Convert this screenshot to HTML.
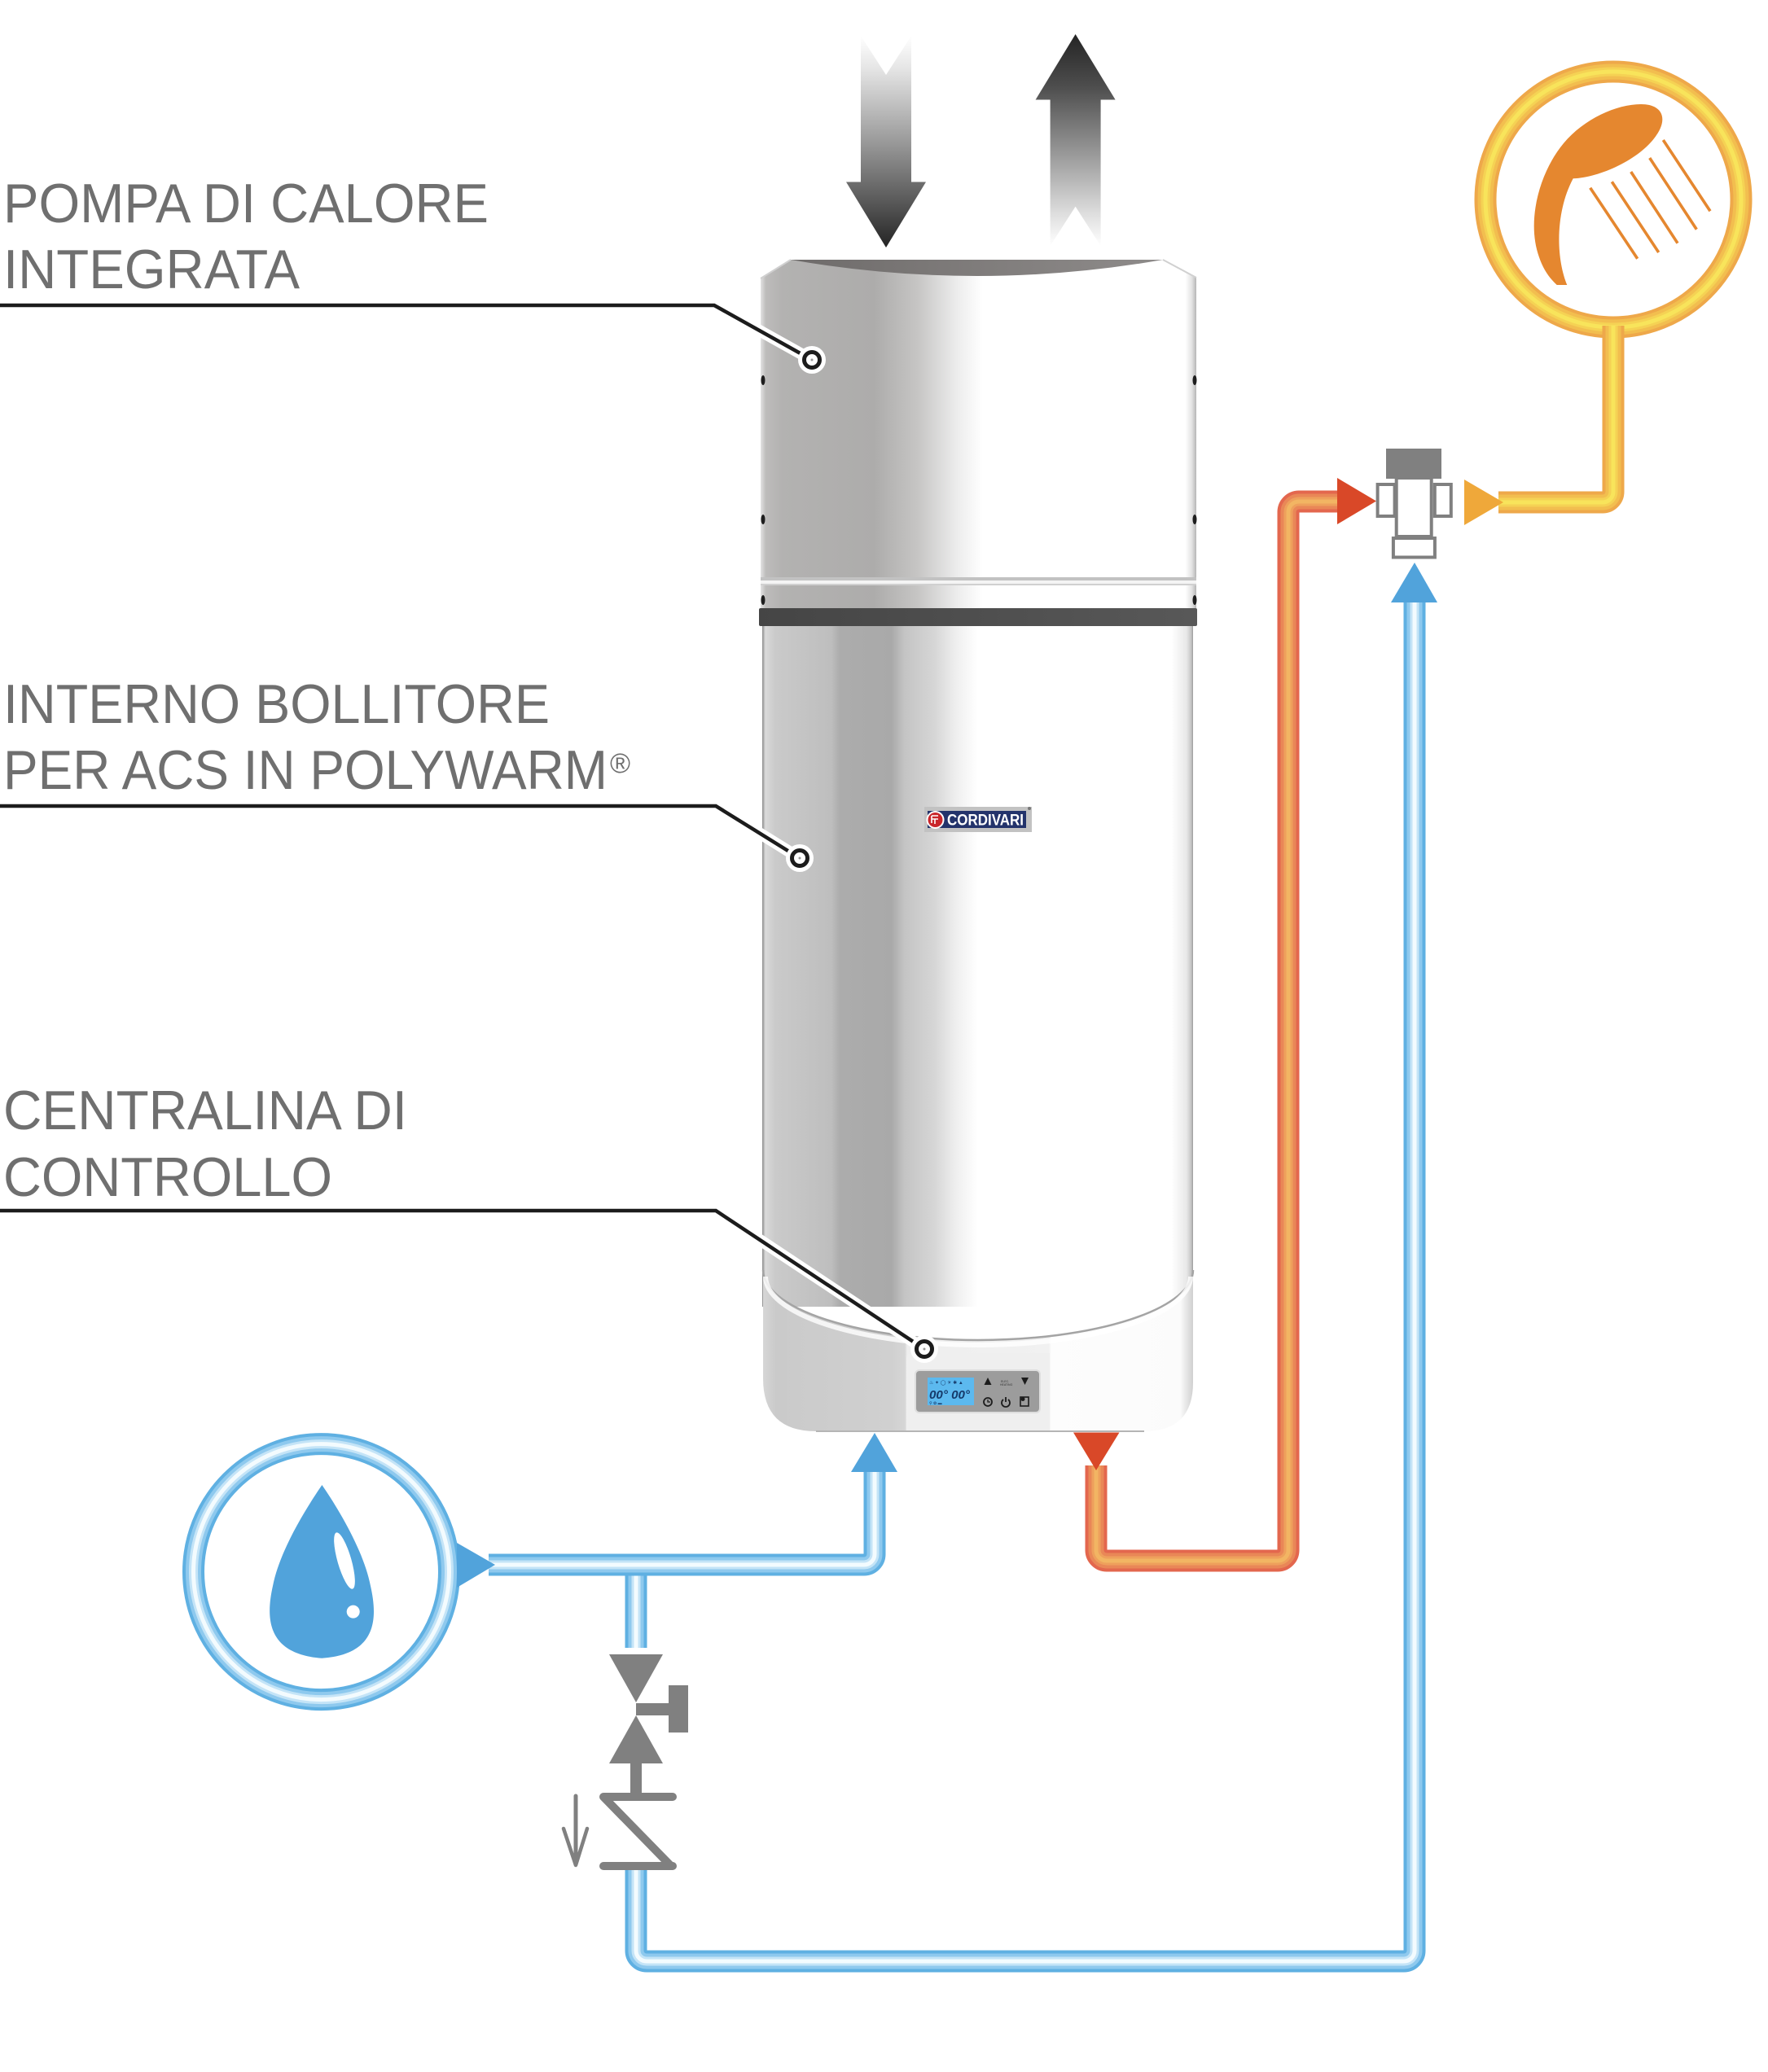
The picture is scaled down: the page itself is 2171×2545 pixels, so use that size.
<!DOCTYPE html>
<html>
<head>
<meta charset="utf-8">
<style>
html,body{margin:0;padding:0;background:#ffffff;}
svg{display:block;}
</style>
</head>
<body>
<svg xmlns="http://www.w3.org/2000/svg" width="2171" height="2545" viewBox="0 0 2171 2545">
<defs>
  <linearGradient id="gDown" x1="0" y1="44" x2="0" y2="304" gradientUnits="userSpaceOnUse">
    <stop offset="0" stop-color="#ffffff"/>
    <stop offset="0.15" stop-color="#e6e6e6"/>
    <stop offset="0.5" stop-color="#9a9a9a"/>
    <stop offset="0.8" stop-color="#555555"/>
    <stop offset="1" stop-color="#242424"/>
  </linearGradient>
  <linearGradient id="gUp" x1="0" y1="42" x2="0" y2="302" gradientUnits="userSpaceOnUse">
    <stop offset="0" stop-color="#242424"/>
    <stop offset="0.25" stop-color="#4e4e4e"/>
    <stop offset="0.55" stop-color="#959595"/>
    <stop offset="0.85" stop-color="#dedede"/>
    <stop offset="1" stop-color="#ffffff"/>
  </linearGradient>
  <linearGradient id="gUpper" x1="934" y1="0" x2="1469" y2="0" gradientUnits="userSpaceOnUse">
    <stop offset="0" stop-color="#e2e2e2"/>
    <stop offset="0.012" stop-color="#bdbcbb"/>
    <stop offset="0.05" stop-color="#b3b2b1"/>
    <stop offset="0.26" stop-color="#adacab"/>
    <stop offset="0.36" stop-color="#c6c5c4"/>
    <stop offset="0.45" stop-color="#ececec"/>
    <stop offset="0.51" stop-color="#ffffff"/>
    <stop offset="0.975" stop-color="#ffffff"/>
    <stop offset="0.99" stop-color="#e2e2e2"/>
    <stop offset="1" stop-color="#b5b5b5"/>
  </linearGradient>
  <linearGradient id="gLower" x1="936" y1="0" x2="1465" y2="0" gradientUnits="userSpaceOnUse">
    <stop offset="0" stop-color="#8a8a8a"/>
    <stop offset="0.007" stop-color="#dadada"/>
    <stop offset="0.03" stop-color="#cacaca"/>
    <stop offset="0.16" stop-color="#bebebe"/>
    <stop offset="0.18" stop-color="#acacac"/>
    <stop offset="0.3" stop-color="#a9a9a9"/>
    <stop offset="0.33" stop-color="#c4c4c4"/>
    <stop offset="0.4" stop-color="#d6d6d6"/>
    <stop offset="0.45" stop-color="#efefef"/>
    <stop offset="0.5" stop-color="#ffffff"/>
    <stop offset="0.95" stop-color="#ffffff"/>
    <stop offset="0.985" stop-color="#e8e8e8"/>
    <stop offset="0.996" stop-color="#c4c4c4"/>
    <stop offset="1" stop-color="#9a9a9a"/>
  </linearGradient>
  <linearGradient id="gSkirt" x1="937" y1="0" x2="1465" y2="0" gradientUnits="userSpaceOnUse">
    <stop offset="0" stop-color="#d6d6d6"/>
    <stop offset="0.03" stop-color="#cacaca"/>
    <stop offset="0.3" stop-color="#d0d0d0"/>
    <stop offset="0.33" stop-color="#d6d6d6"/>
    <stop offset="0.335" stop-color="#eeeeee"/>
    <stop offset="0.665" stop-color="#f1f1f1"/>
    <stop offset="0.67" stop-color="#fdfdfd"/>
    <stop offset="0.97" stop-color="#fbfbfb"/>
    <stop offset="1" stop-color="#d0d0d0"/>
  </linearGradient>
  <linearGradient id="gLens" x1="971" y1="0" x2="1428" y2="0" gradientUnits="userSpaceOnUse">
    <stop offset="0" stop-color="#6e6b6a"/>
    <stop offset="0.5" stop-color="#7f7c7b"/>
    <stop offset="1" stop-color="#8e8b8a"/>
  </linearGradient>
  <linearGradient id="gBand" x1="932" y1="0" x2="1470" y2="0" gradientUnits="userSpaceOnUse">
    <stop offset="0" stop-color="#454545"/>
    <stop offset="1" stop-color="#585858"/>
  </linearGradient>

  <path id="pBlueA" d="M600 1922 H1061 A13 13 0 0 0 1074 1909 V1806"/>
  <path id="pBlueB" d="M781 1922 V2024"/>
  <path id="pBlueC" d="M781 2296 V2396 A13 13 0 0 0 794 2409 H1724 A13 13 0 0 0 1737 2396 V739"/>
  <path id="pRed" d="M1346 1800 V1904 A13 13 0 0 0 1359 1917 H1569 A13 13 0 0 0 1582 1904 V629 A13 13 0 0 1 1595 616 H1645"/>
  <path id="pYel" d="M1981 400 V604 A13 13 0 0 1 1968 617 H1840"/>
</defs>

<rect x="0" y="0" width="2171" height="2545" fill="#ffffff"/>

<!-- Labels -->
<g font-family="'Liberation Sans', 'DejaVu Sans', sans-serif" fill="#6f6f6f" font-size="68">
  <text x="4" y="273" textLength="596" lengthAdjust="spacingAndGlyphs">POMPA DI CALORE</text>
  <text x="4" y="354" textLength="364" lengthAdjust="spacingAndGlyphs">INTEGRATA</text>
  <text x="4" y="888" textLength="671" lengthAdjust="spacingAndGlyphs">INTERNO BOLLITORE</text>
  <text x="4" y="969" textLength="742" lengthAdjust="spacingAndGlyphs">PER ACS IN POLYWARM</text>
  <text x="749" y="949" font-size="34">®</text>
  <text x="4" y="1387" textLength="496" lengthAdjust="spacingAndGlyphs">CENTRALINA DI</text>
  <text x="4" y="1469" textLength="404" lengthAdjust="spacingAndGlyphs">CONTROLLO</text>
</g>

<!-- Air arrows -->
<polygon points="1057,44 1088,92 1119,44 1119,223.5 1137,223.5 1088,304 1039,223.5 1057,223.5" fill="url(#gDown)"/>
<polygon points="1320.6,42 1369.6,122.5 1351.6,122.5 1351.6,302 1320.6,253.7 1289.6,302 1289.6,122.5 1271.6,122.5" fill="url(#gUp)"/>

<!-- Tank: lower body -->
<rect x="936" y="765" width="529" height="840" fill="url(#gLower)"/>
<!-- upper body -->
<path d="M934 342 L971 319 H1428 L1469 341 V712 H934 Z" fill="url(#gUpper)"/>
<path d="M934 342 L971 319" stroke="#d0d0d0" stroke-width="2" fill="none"/>
<path d="M1428 319 L1469 341" stroke="#d0d0d0" stroke-width="2" fill="none"/>
<path d="M971 319 H1428 Q1200 359 971 319 Z" fill="url(#gLens)"/>
<!-- seam -->
<rect x="934" y="709" width="535" height="4" fill="#c2c2c2"/>
<rect x="934" y="713" width="535" height="4" fill="#f4f4f4"/>
<rect x="934" y="717" width="535" height="2" fill="#d0d0d0"/>
<rect x="934" y="719" width="535" height="28" fill="url(#gUpper)"/>
<!-- dark band -->
<rect x="932" y="747" width="538" height="22" rx="2" fill="url(#gBand)"/>
<!-- holes -->
<g fill="#1e1e1e">
  <ellipse cx="937" cy="467" rx="2.5" ry="6"/>
  <ellipse cx="937" cy="638" rx="2.5" ry="6"/>
  <ellipse cx="937" cy="737" rx="2.5" ry="6"/>
  <ellipse cx="1467" cy="467" rx="2.5" ry="6"/>
  <ellipse cx="1467" cy="638" rx="2.5" ry="6"/>
  <ellipse cx="1467" cy="737" rx="2.5" ry="6"/>
</g>

<!-- Logo -->
<rect x="1135" y="991" width="132" height="31" fill="#c2c2c2"/>
<rect x="1139" y="996" width="121" height="21" fill="#23336b"/>
<circle cx="1148.5" cy="1007" r="11" fill="#ffffff"/>
<circle cx="1148.5" cy="1007" r="9" fill="#c9262b"/>
<path d="M1144 1002 h8 M1144 1006 h8 M1144 1002 v9 M1148 1006 v6" stroke="#ffffff" stroke-width="1.6" fill="none"/>
<text x="1163" y="1013.5" font-family="'Liberation Sans', sans-serif" font-weight="bold" font-size="19" fill="#ffffff" textLength="94" lengthAdjust="spacingAndGlyphs">CORDIVARI</text>
<circle cx="1264" cy="993" r="2" fill="#777777"/>

<!-- Skirt -->
<path d="M937 1560 A264 86 0 0 0 1465 1560 V1698 Q1465 1758 1405 1758 H1002 Q937 1758 937 1693 Z" fill="url(#gSkirt)"/>
<path d="M937 1560 A264 86 0 0 0 1465 1560" fill="none" stroke="#a4a4a4" stroke-width="2.5"/>
<path d="M940 1568 A261 84 0 0 0 1462 1568" fill="none" stroke="#ffffff" stroke-width="6" opacity="0.8"/>
<path d="M1002 1758 H1405" stroke="#b5b5b5" stroke-width="2"/>
<!-- control panel area -->
<path d="M1113 1668 Q1113 1662 1120 1662 H1289 V1757 H1113 Z" fill="#efefef"/>
<rect x="1124" y="1683" width="153" height="52" rx="5" fill="#9c9c9c" stroke="#dedede" stroke-width="2"/>
<rect x="1139" y="1692" width="57" height="34" fill="#5cb9ef"/>
<g fill="#163a6a" font-family="'Liberation Sans', sans-serif">
  <text x="1141" y="1700" font-size="6">♨ ✦ ◯ ☀ ✱ ▲</text>
  <text x="1141" y="1718" font-size="15" font-style="italic" font-weight="bold" textLength="50" lengthAdjust="spacingAndGlyphs">00° 00°</text>
  <text x="1141" y="1725" font-size="5">⚲      ✿      ▬</text>
</g>
<g fill="#1c1c1c">
  <polygon points="1213,1692 1208.5,1701 1217.5,1701"/>
  <polygon points="1254,1692 1263,1692 1258.5,1701"/>
  <text x="1229" y="1698" font-family="'Liberation Sans', sans-serif" font-size="3.5" fill="#333">ELEC.</text>
  <text x="1228" y="1702" font-family="'Liberation Sans', sans-serif" font-size="3.5" fill="#333">HEATING</text>
</g>
<circle cx="1213" cy="1722" r="5" fill="none" stroke="#1c1c1c" stroke-width="1.8"/>
<path d="M1213 1719 V1722 H1216" stroke="#1c1c1c" stroke-width="1.3" fill="none"/>
<path d="M1232 1719 A5 5 0 1 0 1238 1719" stroke="#1c1c1c" stroke-width="1.8" fill="none"/>
<path d="M1235 1716 V1722" stroke="#1c1c1c" stroke-width="1.8"/>
<rect x="1253" y="1716" width="10" height="11" fill="none" stroke="#1c1c1c" stroke-width="1.6"/>
<circle cx="1256" cy="1718.5" r="2.5" fill="#1c1c1c"/>

<!-- Pipes -->
<g fill="none" stroke-linecap="butt">
  <use href="#pBlueB" stroke="#5fb0e2" stroke-width="27"/>
  <use href="#pBlueB" stroke="#8ec9ee" stroke-width="19"/>
  <use href="#pBlueB" stroke="#c4e4f7" stroke-width="11"/>
  <use href="#pBlueB" stroke="#f3fbfe" stroke-width="5"/>

  <use href="#pBlueA" stroke="#5fb0e2" stroke-width="27"/>
  <use href="#pBlueA" stroke="#8ec9ee" stroke-width="19"/>
  <use href="#pBlueA" stroke="#c4e4f7" stroke-width="11"/>
  <use href="#pBlueA" stroke="#f3fbfe" stroke-width="5"/>

  <use href="#pBlueC" stroke="#5fb0e2" stroke-width="27"/>
  <use href="#pBlueC" stroke="#8ec9ee" stroke-width="19"/>
  <use href="#pBlueC" stroke="#c4e4f7" stroke-width="11"/>
  <use href="#pBlueC" stroke="#f3fbfe" stroke-width="5"/>

  <use href="#pRed" stroke="#e3674e" stroke-width="27"/>
  <use href="#pRed" stroke="#e98757" stroke-width="19"/>
  <use href="#pRed" stroke="#eea05c" stroke-width="11"/>
  <use href="#pRed" stroke="#f2b563" stroke-width="5"/>

  <circle cx="394.5" cy="1930.6" r="157" stroke="#5fb0e2" stroke-width="27"/>
  <circle cx="394.5" cy="1930.6" r="157" stroke="#8ec9ee" stroke-width="19"/>
  <circle cx="394.5" cy="1930.6" r="157" stroke="#c4e4f7" stroke-width="11"/>
  <circle cx="394.5" cy="1930.6" r="157" stroke="#f3fbfe" stroke-width="5"/>

  <circle cx="1981" cy="245" r="157" stroke="#eea84a" stroke-width="27"/>
  <circle cx="1981" cy="245" r="157" stroke="#f2be4f" stroke-width="19"/>
  <circle cx="1981" cy="245" r="157" stroke="#f5d254" stroke-width="11"/>
  <circle cx="1981" cy="245" r="157" stroke="#f8e45b" stroke-width="5"/>

  <use href="#pYel" stroke="#eea84a" stroke-width="27"/>
  <use href="#pYel" stroke="#f2be4f" stroke-width="19"/>
  <use href="#pYel" stroke="#f5d254" stroke-width="11"/>
  <use href="#pYel" stroke="#f8e45b" stroke-width="5"/>
</g>

<!-- arrows on pipes -->
<polygon points="1045,1808 1102,1808 1074,1760" fill="#51a3db"/>
<polygon points="1318,1759.5 1374.5,1759.5 1346,1806" fill="#d94828"/>
<polygon points="561,1895 561,1950 608,1922" fill="#51a3db"/>
<polygon points="1708,740 1765,740 1737,691" fill="#51a3db"/>
<polygon points="1642,587 1642,644 1690,615.5" fill="#d94828"/>
<polygon points="1798,589 1798,645 1846,617" fill="#efa83a"/>

<!-- mixing valve -->
<g stroke="#808080" stroke-width="4" fill="#ffffff">
  <rect x="1691.6" y="595" width="21" height="39"/>
  <rect x="1761.8" y="595" width="20" height="39"/>
  <rect x="1714.7" y="587" width="43" height="72"/>
  <rect x="1710.9" y="661" width="51" height="23.5"/>
</g>
<rect x="1702" y="551" width="68" height="37" fill="#808080"/>

<!-- gate valve and check valve -->
<g fill="#808080">
  <polygon points="748,2032 814,2032 781,2091"/>
  <polygon points="748,2166 814,2166 781,2107"/>
  <rect x="781" y="2092" width="42" height="15"/>
  <rect x="821" y="2070" width="24" height="58"/>
  <rect x="774" y="2165" width="14" height="38"/>
</g>
<g fill="none" stroke="#808080" stroke-linecap="round" stroke-linejoin="round">
  <polyline points="826,2207 741,2207 823,2291" stroke-width="10"/>
  <line x1="741" y1="2292" x2="826" y2="2292" stroke-width="10"/>
  <line x1="707" y1="2206" x2="707" y2="2288" stroke-width="5"/>
  <polyline points="692,2246 707,2291 721,2246" stroke-width="4.5"/>
</g>

<!-- water drop -->
<path d="M395.4 1824 C412 1848 446 1902 455 1948 C464 1988 463 2032 395.4 2036.7 C328 2032 326 1988 335 1948 C344 1902 379 1848 395.4 1824 Z" fill="#51a3db"/>
<ellipse cx="423" cy="1917" rx="8.5" ry="36" transform="rotate(-16 423 1917)" fill="#ffffff"/>
<circle cx="433.7" cy="1979.6" r="8" fill="#ffffff"/>

<!-- shower -->
<path d="M1931.7 219.3 C1965 218 2015 195 2034 166 C2048 146 2042 128 2015 128 C1985 128 1945 146 1920 176 C1890 212 1874 272 1890 316 C1895 331 1903 342 1911.7 350 L1924.3 350 C1911 318 1909 262 1931.7 219.3 Z" fill="#e5872f"/>
<g stroke="#e5872f" stroke-width="3.6" stroke-linecap="butt">
  <line x1="1952.7" y1="230.7" x2="2010.7" y2="317.7"/>
  <line x1="1979.3" y1="223.3" x2="2036.7" y2="310"/>
  <line x1="2002.7" y1="211" x2="2060" y2="298.7"/>
  <line x1="2025.7" y1="194" x2="2083.3" y2="281.7"/>
  <line x1="2042.3" y1="172" x2="2100" y2="259.3"/>
</g>

<!-- leader lines -->
<g fill="none" stroke-linejoin="miter">
  <polyline points="0,375 877,375 997,442" stroke="#ffffff" stroke-width="14"/>
  <polyline points="0,990 879,990 982,1054" stroke="#ffffff" stroke-width="14"/>
  <polyline points="0,1487 879,1487 1135,1657" stroke="#ffffff" stroke-width="14"/>
  <polyline points="0,375 877,375 997,442" stroke="#1c1c1c" stroke-width="4.5"/>
  <polyline points="0,990 879,990 982,1054" stroke="#1c1c1c" stroke-width="4.5"/>
  <polyline points="0,1487 879,1487 1135,1657" stroke="#1c1c1c" stroke-width="4.5"/>
</g>
<g>
  <circle cx="997" cy="442" r="17" fill="#ffffff"/>
  <circle cx="997" cy="442" r="9.5" fill="#ffffff" stroke="#1c1c1c" stroke-width="5"/>
  <circle cx="997" cy="442" r="1.5" fill="#999999"/>
  <circle cx="982" cy="1054" r="17" fill="#ffffff"/>
  <circle cx="982" cy="1054" r="9.5" fill="#ffffff" stroke="#1c1c1c" stroke-width="5"/>
  <circle cx="982" cy="1054" r="1.5" fill="#999999"/>
  <circle cx="1135" cy="1657" r="17" fill="#ffffff"/>
  <circle cx="1135" cy="1657" r="9.5" fill="#ffffff" stroke="#1c1c1c" stroke-width="5"/>
  <circle cx="1135" cy="1657" r="1.5" fill="#999999"/>
</g>
</svg>
</body>
</html>
